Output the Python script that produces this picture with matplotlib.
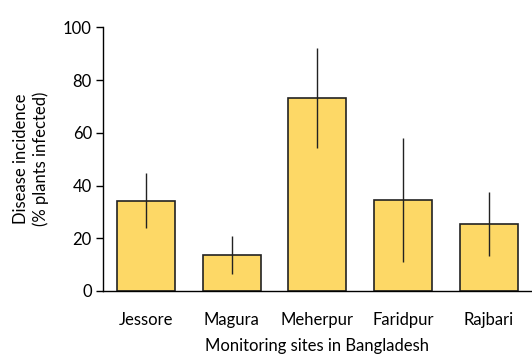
import matplotlib.pyplot as plt

sites = ['Jessore', 'Magura', 'Meherpur', 'Faridpur', 'Rajbari']
incidence = [34.3, 13.8, 73.2, 34.5, 25.5]
err = [10.3, 7.2, 19.0, 23.5, 12.1]

plt.rcParams['font.family'] = ['Lato', 'DejaVu Sans']

fig = plt.figure(figsize=(5.32, 3.56), dpi=100)
ax = fig.add_axes([0.1936, 0.1826, 0.806, 0.7402])

x = range(len(sites))
ax.bar(x, incidence, width=0.674, color='#FDD866', edgecolor='#222222', linewidth=1.2, zorder=2)
ax.errorbar(x, incidence, yerr=err, fmt='none', ecolor='#222222', elinewidth=1.0, capsize=0, zorder=3)

ax.set_xlim(-0.5, 4.5)
ax.set_ylim(0, 100)
ax.set_yticks([0, 20, 40, 60, 80, 100])
ax.set_xticks(list(x))
ax.set_xticklabels(sites)
ax.tick_params(axis='x', length=0, pad=15, labelsize=12)
ax.tick_params(axis='y', length=5, width=1, direction='out', labelsize=12, pad=3)

for s in ['top', 'right']:
    ax.spines[s].set_visible(False)
ax.spines['left'].set_linewidth(1)
ax.spines['bottom'].set_linewidth(1)

ax.set_ylabel('Disease incidence\n(% plants infected)', fontsize=12, labelpad=10, linespacing=1.25)
ax.set_xlabel('Monitoring sites in Bangladesh', fontsize=12, labelpad=7)

fig.savefig('out.png', dpi=100)
